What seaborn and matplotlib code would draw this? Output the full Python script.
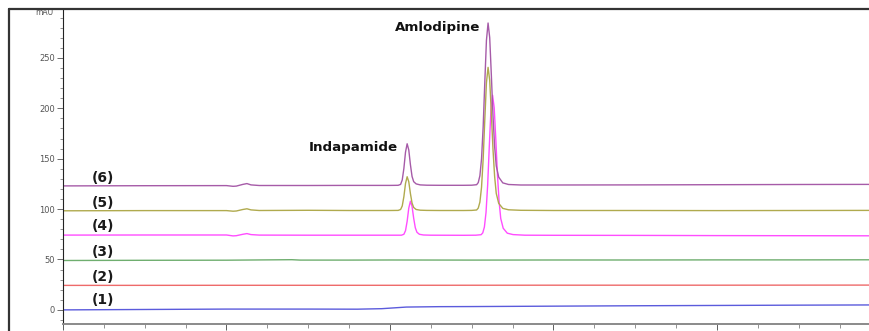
import numpy as np
import pandas as pd
import matplotlib
matplotlib.use("Agg")
import matplotlib.pyplot as plt
from matplotlib.lines import Line2D
from matplotlib.ticker import MultipleLocator
import seaborn as sns

# --- chromatogram traces (time in min, signal in mAU) ---
trace_labels = ["(1)", "(2)", "(3)", "(4)", "(5)", "(6)"]
trace_colors = ["#5b5bdc", "#ee6a6a", "#6fae6f", "#ff4dff", "#b0aa4e", "#a65ba8"]

t1 = [0.0, 1.0, 2.0, 3.0, 3.6, 3.9, 4.2, 4.6, 5.0, 6.0, 7.0, 8.0, 9.0, 9.86]
y1 = [0.0, 0.4, 0.8, 0.8, 0.7, 1.2, 2.8, 3.2, 3.3, 3.7, 4.1, 4.4, 4.7, 4.9]

t2 = [0.0, 2.0, 4.0, 6.0, 8.0, 9.86]
y2 = [24.3, 24.4, 24.4, 24.5, 24.5, 24.6]

t3 = [0.0, 1.0, 2.0, 2.8, 2.9, 3.5, 4.0, 5.0, 6.0, 7.0, 8.0, 9.0, 9.86]
y3 = [49.0, 49.2, 49.3, 49.8, 49.4, 49.4, 49.5, 49.4, 49.5, 49.5, 49.6, 49.6, 49.7]

t4 = [0.0, 1.0, 2.0, 2.08, 2.12, 2.2, 2.25, 2.3, 2.4, 3.0, 4.0,
      4.14, 4.17, 4.19, 4.21, 4.23, 4.25, 4.27, 4.29, 4.31, 4.33, 4.36, 4.41, 4.5, 4.9,
      5.05, 5.115, 5.135, 5.155, 5.175, 5.195, 5.215, 5.235, 5.255, 5.275, 5.295,
      5.315, 5.335, 5.355, 5.385, 5.435, 5.505, 5.65, 6.0, 7.0, 8.0, 9.0, 9.86]
y4 = [74.2, 74.3, 74.3, 73.4, 73.6, 75.0, 75.7, 74.7, 74.2, 74.1, 74.1,
      74.1, 75.0, 78.6, 87.9, 101.0, 107.8, 102.7, 90.9, 81.4, 77.0, 75.0, 74.3, 74.1, 74.0,
      74.1, 74.6, 76.4, 82.2, 96.7, 124.0, 162.3, 198.1, 213.0, 200.5, 168.5,
      133.8, 107.4, 90.7, 81.0, 76.1, 74.7, 74.1, 74.0, 73.9, 73.7, 73.6, 73.5]

t5 = [0.0, 1.0, 2.0, 2.08, 2.12, 2.2, 2.25, 2.3, 2.4, 3.0, 3.5, 4.0,
      4.10, 4.13, 4.15, 4.17, 4.19, 4.21, 4.23, 4.25, 4.27, 4.29, 4.32, 4.37, 4.45, 4.6, 4.9,
      5.0, 5.06, 5.08, 5.10, 5.12, 5.14, 5.16, 5.18, 5.20, 5.22, 5.24, 5.26, 5.28,
      5.30, 5.33, 5.38, 5.45, 5.6, 6.0, 7.0, 8.0, 9.0, 9.86]
y5 = [98.3, 98.5, 98.5, 97.9, 98.1, 99.6, 100.3, 99.2, 98.6, 98.8, 98.6, 98.6,
      98.7, 99.6, 103.1, 112.3, 125.4, 132.1, 127.1, 115.4, 106.0, 101.6, 99.6, 98.9, 98.7, 98.6, 98.6,
      98.7, 99.1, 101.0, 106.9, 121.7, 149.7, 188.8, 225.4, 240.6, 227.8, 195.1, 159.6, 132.6,
      115.6, 105.7, 100.7, 99.3, 98.8, 98.6, 98.6, 98.5, 98.6, 98.7]

t6 = [0.0, 1.0, 2.0, 2.08, 2.12, 2.2, 2.25, 2.3, 2.4, 3.0, 3.5, 4.0,
      4.10, 4.13, 4.15, 4.17, 4.19, 4.21, 4.23, 4.25, 4.27, 4.29, 4.32, 4.37, 4.45, 4.6, 4.9,
      5.0, 5.06, 5.08, 5.10, 5.12, 5.14, 5.16, 5.18, 5.20, 5.22, 5.24, 5.26, 5.28,
      5.30, 5.33, 5.38, 5.45, 5.6, 6.0, 7.0, 8.0, 9.0, 9.86]
y6 = [123.0, 123.2, 123.3, 122.6, 122.8, 124.5, 125.3, 124.0, 123.4, 123.4, 123.5, 123.5,
      123.6, 124.5, 128.9, 140.3, 156.5, 164.8, 158.6, 144.1, 132.4, 127.2, 125.0, 124.0, 123.7, 123.6, 123.6,
      123.7, 124.2, 126.3, 133.1, 149.8, 181.6, 225.8, 267.4, 284.6, 270.1, 233.1, 192.8, 162.2,
      142.9, 131.7, 126.0, 124.4, 123.9, 123.9, 124.0, 124.2, 124.4, 124.5]

# label positions (time, mAU)
label_x = 0.35
label_y = [10, 33, 57.5, 83, 106, 131]
peak_names = ["Indapamide", "Amlodipine"]
peak_text_x = [4.10, 5.10]
peak_text_y = [161.5, 280.0]

# --- long-form table for seaborn ---
times = [t1, t2, t3, t4, t5, t6]
values = [y1, y2, y3, y4, y5, y6]
df = pd.concat(
    [pd.DataFrame({"time": t, "mAU": y, "trace": lab})
     for t, y, lab in zip(times, values, trace_labels)],
    ignore_index=True,
)

sns.set_style("ticks")
plt.rcParams["font.family"] = ["DejaVu Sans"]

fig = plt.figure(figsize=(8.69, 3.31), dpi=100)
W, H = 869, 331
ax = fig.add_axes([63 / W, (H - 324) / H, (W - 63) / W, (324 - 9) / H])

sns.lineplot(data=df, x="time", y="mAU", hue="trace", palette=trace_colors,
             estimator=None, sort=False, legend=False, linewidth=1.0, ax=ax)

ax.set_xlim(0, 9.86)
ax.set_ylim(-14, 298.5)
ax.set_xlabel("")
ax.set_ylabel("")

# axes styling like the instrument software
ax.spines["top"].set_visible(False)
ax.spines["right"].set_visible(False)
ax.spines["left"].set_color("#222222")
ax.spines["left"].set_linewidth(0.8)
ax.spines["bottom"].set_color("#8a8a8a")
ax.spines["bottom"].set_linewidth(1.4)

ax.yaxis.set_minor_locator(MultipleLocator(10))
ax.set_yticks([0, 50, 100, 150, 200, 250])
ax.xaxis.set_major_locator(MultipleLocator(2))
ax.xaxis.set_minor_locator(MultipleLocator(0.5))
ax.tick_params(axis="y", which="major", length=4, width=0.6, labelsize=6,
               colors="#555555", pad=2)
ax.tick_params(axis="y", which="minor", length=2, width=0.5, colors="#666666")
ax.tick_params(axis="x", which="major", length=4, width=0.6, labelsize=6,
               colors="#444444", pad=3)
ax.tick_params(axis="x", which="minor", length=3, width=0.5, colors="#666666")

ax.text(-0.0125, 295.5, "mAU", transform=ax.get_yaxis_transform(), fontsize=5.5,
        color="#555555", ha="right", va="center")

for lab, ly in zip(trace_labels, label_y):
    ax.text(label_x, ly, lab, fontsize=10, fontweight="bold", color="#1a1a1a",
            ha="left", va="center")

for name, px, py in zip(peak_names, peak_text_x, peak_text_y):
    ax.text(px, py, name, fontsize=9.6, fontweight="bold", color="#111111",
            ha="right", va="center")

# outer frame of the screenshot (left and top edge)
fig.add_artist(Line2D([9 / W, 9 / W], [0, 1 - 9 / H], transform=fig.transFigure,
                      color="#333333", linewidth=1.6))
fig.add_artist(Line2D([9 / W, 1], [1 - 9 / H, 1 - 9 / H], transform=fig.transFigure,
                      color="#333333", linewidth=1.6))

fig.savefig("out.png", dpi=100)
